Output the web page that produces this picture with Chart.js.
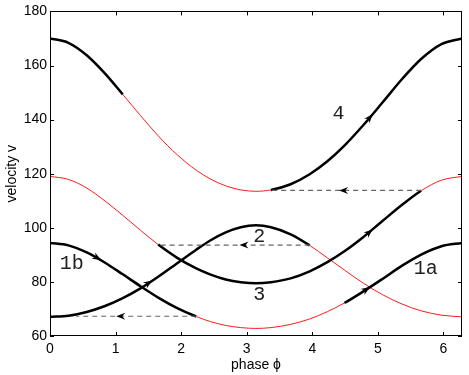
<!DOCTYPE html>
<html>
<head>
<meta charset="utf-8">
<script src="https://cdn.jsdelivr.net/npm/chart.js@4.4.1/dist/chart.umd.min.js"></script>
<style>
html,body{margin:0;padding:0;background:#fff}
#wrap{width:469px;height:375px;position:relative}
</style>
</head>
<body>
<div id="wrap"><canvas id="c"></canvas></div>
<script>
// phase samples (rad) and the velocity at those phases
const phase=[0,0.28,0.56,0.84,1.11,1.38,1.65,1.94,2.23,2.45,2.68,2.91,3.14,3.37,3.67,3.96,4.23,4.49,4.78,5.07,5.37,5.66,5.97,6.2832];
const v4 =[170.0,168.4,163.8,157.0,149.3,141.5,134.0,127.0,121.3,118.0,115.5,114.0,113.5,114.0,116.1,119.8,124.6,130.4,138.0,146.3,155.0,162.4,167.9,170.0];
const v3 =[119.0,117.9,114.7,109.9,104.6,99.1,93.8,88.9,85.0,82.7,80.9,79.9,79.5,79.9,81.3,83.9,87.3,91.3,96.6,102.5,108.5,113.7,117.6,119.0];
const v1 =[94.4,93.5,90.9,87.1,82.8,78.4,74.2,70.3,67.2,65.3,63.9,63.1,62.8,63.1,64.3,66.3,69.0,72.2,76.5,81.1,86.0,90.1,93.2,94.4];
const v2 =[67.1,67.5,68.9,71.1,74.0,77.6,81.9,86.9,91.9,95.4,98.3,100.2,100.9,100.2,97.6,93.5,88.9,84.4,79.5,75.3,71.8,69.3,67.7,67.1];
// phase stretches drawn as thick black trajectory (rest is thin red)
const black4=[[0,1.11],[3.37,6.3]];
const black3=[[1.65,5.66]];
const black1=[[0,2.23],[4.49,6.3]];
const black2=[[0,3.96]];
// dashed jumps: from phase, to phase, velocity
const jumps=[[5.66,3.37,113.8],[3.96,1.65,93.6],[2.23,0.4,67.3]];
// arrow heads: phase, velocity, direction (dphase, dv)
const arrows=[[4.92,142.0,1,28.6],[4.92,99.4,1,20.3],[4.88,78.1,1,15.9],[0.78,88.1,1,-13.6],[1.56,80.5,1,15.9],
  [4.41,113.8,-1,0],[2.89,93.6,-1,0],[1.01,67.3,-1,0]];
const labels=[['4',4.40,142.2],['2',3.19,96.6],['3',3.19,75.1],['1a',5.73,84.9],['1b',0.33,86.8]];
const xTicks=[0,1,2,3,4,5,6];
const yTicks=[60,80,100,120,140,160,180];

function inBlack(s,blk){
  const m=(s.p0.parsed.x+s.p1.parsed.x)/2;
  return blk.some(r=>m>=r[0]&&m<=r[1]);
}
function curve(vals,blk){
  return {data:phase.map((x,i)=>({x,y:vals[i]})),pointRadius:0,borderColor:'#000',borderWidth:2.5,
    cubicInterpolationMode:'monotone',borderCapStyle:'butt',
    segment:{borderColor:s=>inBlack(s,blk)?'#000':'#ff1a1a',borderWidth:s=>inBlack(s,blk)?2.5:1}};
}
const datasets=[];
jumps.forEach(j=>datasets.push({data:[{x:j[0],y:j[2]},{x:j[1],y:j[2]}],pointRadius:0,borderColor:'#666',borderWidth:1.2,borderDash:[5,4]}));
datasets.push(curve(v4,black4),curve(v3,black3),curve(v1,black1),curve(v2,black2));

const decor={
  id:'decor',
  afterDatasetsDraw(ch){
    const {ctx,chartArea:a,scales:{x,y}}=ch;
    ctx.save();
    // box + inward ticks
    ctx.strokeStyle='#000';ctx.lineWidth=1;
    ctx.strokeRect(Math.round(a.left)+0.5,Math.round(a.top)+0.5,Math.round(a.right-a.left)-1,Math.round(a.bottom-a.top)-1);
    ctx.beginPath();
    xTicks.forEach(t=>{const px=Math.round(x.getPixelForValue(t))+0.5;
      ctx.moveTo(px,a.bottom);ctx.lineTo(px,a.bottom-4);ctx.moveTo(px,a.top);ctx.lineTo(px,a.top+4);});
    yTicks.forEach(t=>{const py=Math.round(y.getPixelForValue(t))+0.5;
      ctx.moveTo(a.left,py);ctx.lineTo(a.left+4,py);ctx.moveTo(a.right,py);ctx.lineTo(a.right-4,py);});
    ctx.stroke();
    // arrow heads
    ctx.fillStyle='#000';
    arrows.forEach(([p,v,dp,dv])=>{
      const tx=x.getPixelForValue(p),ty=y.getPixelForValue(v);
      let ux=x.getPixelForValue(p+dp*0.1)-tx,uy=y.getPixelForValue(v+dv*0.1)-ty;
      const n=Math.hypot(ux,uy);ux/=n;uy/=n;
      const L=9,W=3.5,N=3;
      ctx.beginPath();
      ctx.moveTo(tx,ty);
      ctx.lineTo(tx-L*ux-W*uy,ty-L*uy+W*ux);
      ctx.lineTo(tx-(L-N)*ux,ty-(L-N)*uy);
      ctx.lineTo(tx-L*ux+W*uy,ty-L*uy-W*ux);
      ctx.closePath();ctx.fill();
    });
    // curve labels
    ctx.fillStyle='#222';ctx.font="20px 'Liberation Mono', monospace";
    ctx.textAlign='center';ctx.textBaseline='middle';
    labels.forEach(([t,p,v])=>ctx.fillText(t,x.getPixelForValue(p),y.getPixelForValue(v)));
    ctx.restore();
  }
};

const tickFont={family:"'Liberation Sans', Arial, sans-serif",size:14};
new Chart(document.getElementById('c'),{
  type:'line',
  data:{datasets},
  options:{
    responsive:true,maintainAspectRatio:false,animation:false,
    layout:{padding:{top:11,right:7,left:0,bottom:0}},
    plugins:{legend:{display:false},tooltip:{enabled:false}},
    scales:{
      x:{type:'linear',min:0,max:6.2832,
        afterBuildTicks:s=>{s.ticks=xTicks.map(value=>({value}));},
        afterFit:s=>{s.height=39;},
        grid:{display:false,drawTicks:false},border:{display:false},
        ticks:{color:'#000',font:tickFont,padding:5,maxRotation:0,autoSkip:false},
        title:{display:true,text:'phase ϕ',color:'#000',font:tickFont,padding:{top:0,bottom:1}}},
      y:{type:'linear',min:60,max:180,
        afterBuildTicks:s=>{s.ticks=yTicks.map(value=>({value}));},
        afterFit:s=>{s.width=50;},
        grid:{display:false,drawTicks:false},border:{display:false},
        ticks:{color:'#000',font:tickFont,padding:3},
        title:{display:true,text:'velocity v',color:'#000',font:tickFont,padding:{top:4,bottom:0}}}
    }
  },
  plugins:[decor]
});
</script>
</body>
</html>
